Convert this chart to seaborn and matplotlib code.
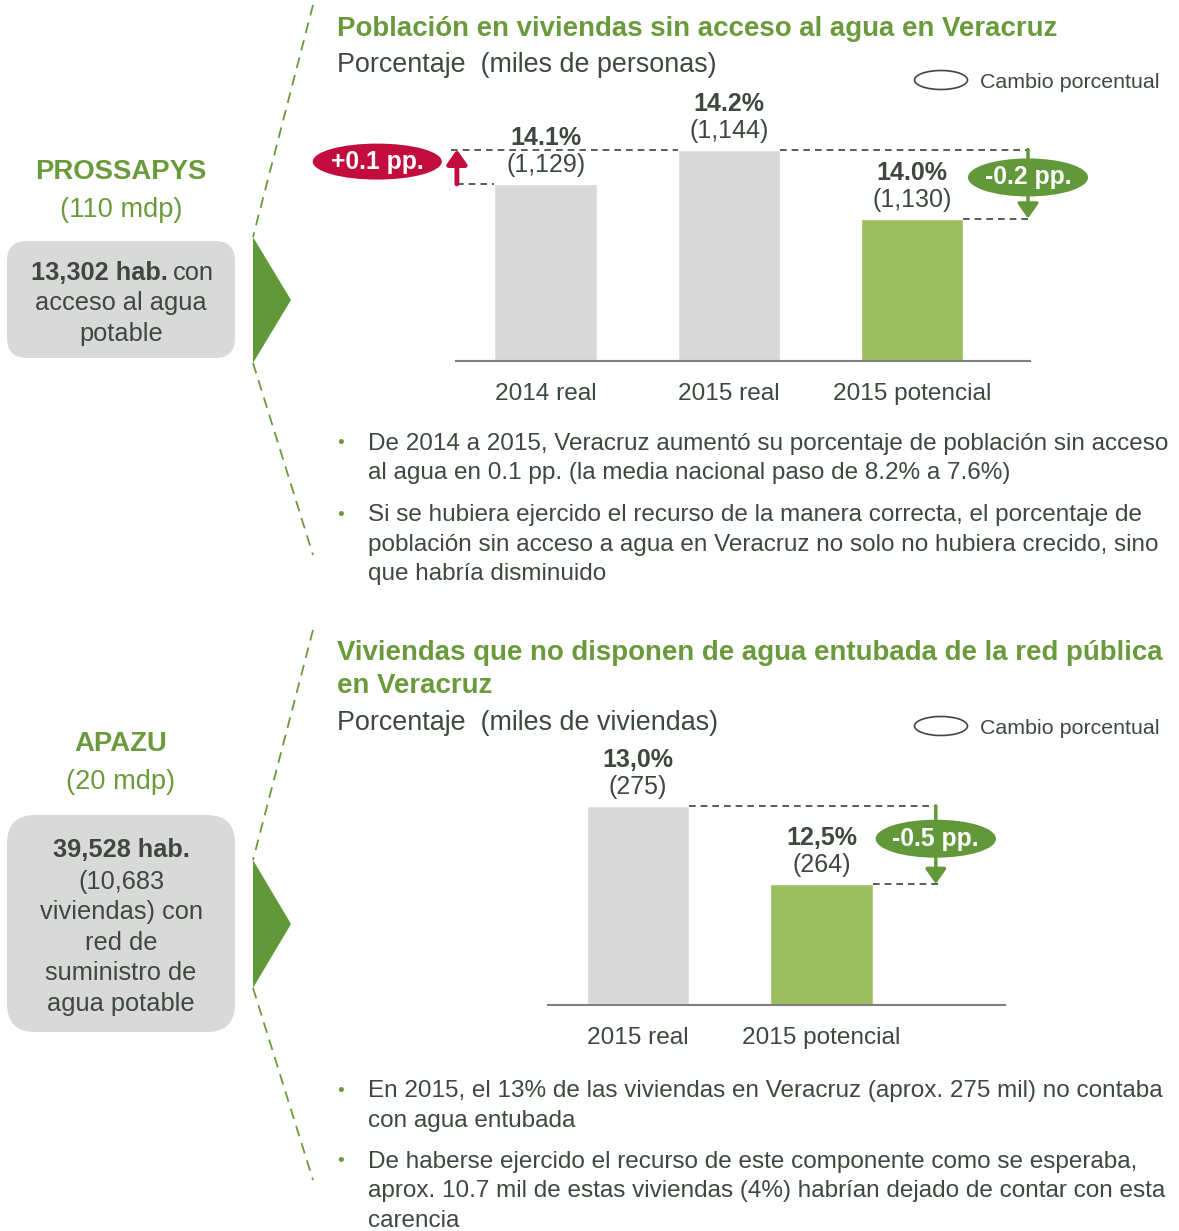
import matplotlib
matplotlib.use("Agg")
import matplotlib.pyplot as plt
from matplotlib.patches import Ellipse, Polygon, FancyBboxPatch
import seaborn as sns

# ---- data ----
top_cats = ["2014 real", "2015 real", "2015 potencial"]
top_pct = [14.1, 14.2, 14.0]
top_pct_labels = ["14.1%", "14.2%", "14.0%"]
top_miles = ["(1,129)", "(1,144)", "(1,130)"]
top_change = ["+0.1 pp.", "-0.2 pp."]

bot_cats = ["2015 real", "2015 potencial"]
bot_pct = [13.0, 12.5]
bot_pct_labels = ["13,0%", "12,5%"]
bot_miles = ["(275)", "(264)"]
bot_change = "-0.5 pp."

top_bullets = [
    ["De 2014 a 2015, Veracruz aumentó su porcentaje de población sin acceso",
     "al agua en 0.1 pp. (la media nacional paso de 8.2% a 7.6%)"],
    ["Si se hubiera ejercido el recurso de la manera correcta, el porcentaje de",
     "población sin acceso a agua en Veracruz no solo no hubiera crecido, sino",
     "que habría disminuido"],
]
bot_bullets = [
    ["En 2015, el 13% de las viviendas en Veracruz (aprox. 275 mil) no contaba",
     "con agua entubada"],
    ["De haberse ejercido el recurso de este componente como se esperaba,",
     "aprox. 10.7 mil de estas viviendas (4%) habrían dejado de contar con esta",
     "carencia"],
]

# ---- style ----
sns.set_style("white")
plt.rcParams["font.family"] = ["Liberation Sans", "DejaVu Sans"]

TXT = "#3E483E"
GREEN_T = "#6A9A3C"
GREEN_D = "#629839"
GREEN_BAR = "#9DBE5F"
GRAY = "#D9D9D9"
RED = "#C20C3D"
DASH = "#404040"

W, H = 1179, 1231
fig = plt.figure(figsize=(W / 100, H / 100), dpi=100)

# overlay axes in pixel coordinates for the decorative parts
ov = fig.add_axes([0, 0, 1, 1])
ov.set_xlim(0, W)
ov.set_ylim(H, 0)
ov.axis("off")
DY = 2  # small vertical nudge so text centres sit like the reference


def axes_px(left, top, right, bottom):
    return fig.add_axes([left / W, 1 - bottom / H, (right - left) / W, (bottom - top) / H])


def pill(ax, x, y, w, h, color, label):
    ax.add_patch(Ellipse((x, y), w, h, facecolor=color, edgecolor="none",
                         zorder=6, clip_on=False))
    ax.text(x, y, label, ha="center", va="center", color="white",
            fontsize=17.8, weight="bold", zorder=7, clip_on=False)


def arrow(ax, x, y0, y1, color, lw, scale):
    ax.annotate("", xy=(x, y1), xytext=(x, y0),
                arrowprops=dict(arrowstyle="-|>,head_length=0.5,head_width=0.35",
                                color=color, lw=lw, shrinkA=0, shrinkB=0,
                                mutation_scale=scale), zorder=5, annotation_clip=False)


def dashed(ax, x0, x1, y):
    ax.plot([x0, x1], [y, y], color=DASH, lw=1.2, ls=(0, (4, 3)),
            clip_on=False, zorder=2)


def bar_panel(ax, cats, vals, colors, pct_labels, miles):
    sns.barplot(x=cats, y=vals, hue=cats, palette=colors, width=0.56,
                saturation=1, legend=False, ax=ax, zorder=1)
    for i, v in enumerate(vals):
        ax.annotate(pct_labels[i], (i, v), xytext=(0, 46), textcoords="offset pixels",
                    ha="center", va="center", fontsize=18, weight="bold", color=TXT)
        ax.annotate(miles[i], (i, v), xytext=(0, 19), textcoords="offset pixels",
                    ha="center", va="center", fontsize=18, color=TXT,
                    bbox=dict(facecolor="white", edgecolor="none", pad=1.5), zorder=4)
    ax.set_facecolor("none")
    for s in ["top", "right", "left"]:
        ax.spines[s].set_visible(False)
    ax.spines["bottom"].set_color("#7F7F7F")
    ax.spines["bottom"].set_linewidth(1.5)
    ax.set_yticks([])
    ax.set_ylabel("")
    ax.tick_params(axis="x", length=0, pad=16, labelsize=17.6, labelcolor=TXT)


# ---- top chart ----
ax1 = axes_px(456, 90, 1030, 361)
bar_panel(ax1, top_cats, top_pct, [GRAY, GRAY, GREEN_BAR], top_pct_labels, top_miles)
v0, ppx = 13.587, 345.0
ax1.set_ylim(v0, v0 + 271 / ppx)
ax1.set_xlim(-0.49, 2.645)
hw = 0.28
dashed(ax1, -0.52, 1 - hw, top_pct[1])
dashed(ax1, 1 + hw, 2.634, top_pct[1])
dashed(ax1, -0.485, -hw, top_pct[0])
dashed(ax1, 2 + hw, 2.645, top_pct[2])
arrow(ax1, -0.485, top_pct[0], top_pct[1], RED, 3.5, 17)
arrow(ax1, 2.634, top_pct[1], top_pct[2], GREEN_D, 2.5, 18)
pill(ax1, -0.92, top_pct[1] - 0.035, 129 / 183, 36 / ppx, RED, top_change[0])
pill(ax1, 2.634, top_pct[1] - 0.081, 120 / 183, 38 / ppx, GREEN_D, top_change[1])

# ---- bottom chart ----
ax2 = axes_px(548, 750, 1005, 1005)
bar_panel(ax2, bot_cats, bot_pct, [GRAY, GREEN_BAR], bot_pct_labels, bot_miles)
v0b, ppxb = 11.724, 156.0
ax2.set_ylim(v0b, v0b + 255 / ppxb)
ax2.set_xlim(-0.49, 2.0)
dashed(ax2, hw, 1.623, bot_pct[0])
dashed(ax2, 1 + hw, 1.65, bot_pct[1])
arrow(ax2, 1.623, bot_pct[0], bot_pct[1], GREEN_D, 2.5, 18)
pill(ax2, 1.623, bot_pct[0] - 0.21, 120 / 183, 38 / ppxb, GREEN_D, bot_change)

# ---- titles and legend ----
ov.text(337, 27 + DY, "Población en viviendas sin acceso al agua en Veracruz",
        fontsize=19.9, weight="bold", color=GREEN_T, va="center")
ov.text(337, 63 + DY, "Porcentaje  (miles de personas)", fontsize=19.4, color=TXT, va="center")
ov.text(337, 651 + DY, "Viviendas que no disponen de agua entubada de la red pública",
        fontsize=19.9, weight="bold", color=GREEN_T, va="center")
ov.text(337, 684 + DY, "en Veracruz", fontsize=19.9, weight="bold", color=GREEN_T, va="center")
ov.text(337, 721 + DY, "Porcentaje  (miles de viviendas)", fontsize=19.4, color=TXT, va="center")
for ly in [80, 726]:
    ov.add_patch(Ellipse((941, ly), 53, 19, facecolor="none", edgecolor=TXT, lw=1.2))
    ov.text(980, ly + DY, "Cambio porcentual", fontsize=15.4, color=TXT, va="center")

# ---- bullets ----
def bullets(items, starts):
    for lines, y0 in zip(items, starts):
        ov.text(341, y0 + DY, "•", fontsize=14, color=GREEN_T, va="center", ha="center")
        for k, line in enumerate(lines):
            ov.text(368, y0 + DY + k * 29.5, line, fontsize=17.5, color=TXT, va="center")


bullets(top_bullets, [442, 513])
bullets(bot_bullets, [1089, 1160])

# ---- left side panels ----
for top, bot, tip in [(5, 555, (237, 300, 363)), (630, 1180, (860, 924, 988))]:
    ov.plot([313, 253], [top, tip[0]], color=GREEN_T, lw=1.3, ls=(0, (6, 4)))
    ov.plot([253, 313], [tip[2], bot], color=GREEN_T, lw=1.3, ls=(0, (6, 4)))
    ov.add_patch(Polygon([(253, tip[0]), (291, tip[1]), (253, tip[2])],
                         closed=True, facecolor=GREEN_D, edgecolor="none"))

ov.text(121, 170 + DY, "PROSSAPYS", fontsize=19.8, weight="bold", color=GREEN_T,
        ha="center", va="center")
ov.text(121, 208 + DY, "(110 mdp)", fontsize=19.6, color=GREEN_T, ha="center", va="center")
ov.add_patch(FancyBboxPatch((7, 241), 228, 117,
                            boxstyle="round,pad=0,rounding_size=20",
                            facecolor=GRAY, edgecolor="none"))
ov.text(168, 271 + DY, "13,302 hab.", fontsize=18.3, weight="bold", color=TXT,
        ha="right", va="center")
ov.text(173, 271 + DY, "con", fontsize=18.3, color=TXT, ha="left", va="center")
ov.text(121, 301 + DY, "acceso al agua", fontsize=18.3, color=TXT, ha="center", va="center")
ov.text(121, 332 + DY, "potable", fontsize=18.3, color=TXT, ha="center", va="center")

ov.text(121, 742 + DY, "APAZU", fontsize=19.8, weight="bold", color=GREEN_T,
        ha="center", va="center")
ov.text(121, 780 + DY, "(20 mdp)", fontsize=19.6, color=GREEN_T, ha="center", va="center")
ov.add_patch(FancyBboxPatch((7, 815), 228, 217,
                            boxstyle="round,pad=0,rounding_size=28",
                            facecolor=GRAY, edgecolor="none"))
ov.text(121, 848 + DY, "39,528 hab.", fontsize=18.3, weight="bold", color=TXT,
        ha="center", va="center")
for k, line in enumerate(["(10,683", "viviendas) con", "red de",
                          "suministro de", "agua potable"]):
    ov.text(121, 880 + DY + k * 30.5, line, fontsize=18.3, color=TXT,
            ha="center", va="center")

fig.savefig("out.png", dpi=100)
